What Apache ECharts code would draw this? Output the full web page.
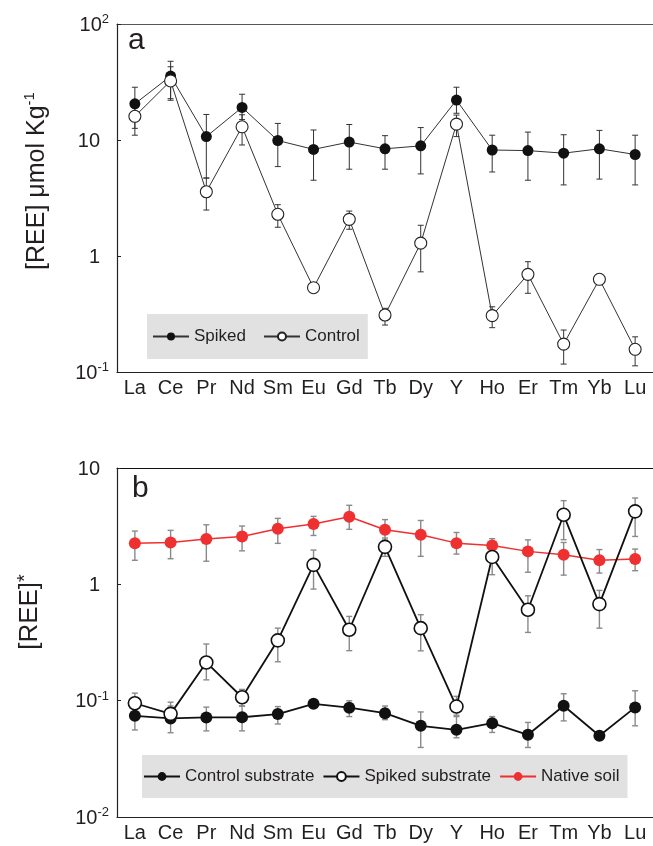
<!DOCTYPE html>
<html>
<head>
<meta charset="utf-8">
<script src="https://cdn.jsdelivr.net/npm/echarts@6/dist/echarts.min.js"></script>
<style>html,body{margin:0;padding:0;background:#fff}#c{width:653px;height:846px}</style>
</head>
<body>
<div id="c"></div>
<script>
const categories = ['La','Ce','Pr','Nd','Sm','Eu','Gd','Tb','Dy','Y','Ho','Er','Tm','Yb','Lu'];

// Panel a
const aSpiked   = [20.5, 35.6, 10.7, 19.1, 9.9, 8.3, 9.6, 8.4, 8.9, 22.1, 8.2, 8.1, 7.7, 8.4, 7.5];
const aSpikedHi = [28.5, 47.7, 16.6, 24.8, 13.9, 12.2, 13.6, 10.9, 12.8, 28.5, 11.0, 11.7, 11.1, 12.1, 11.0];
const aSpikedLo = [12.6, 22.0, 4.7, 15.0, 5.9, 4.5, 5.6, 5.6, 5.1, 17.0, 5.3, 4.5, 4.1, 4.6, 4.1];
const aControl   = [16.0, 32.3, 3.58, 13.0, 2.29, 0.533, 2.07, 0.31, 1.29, 13.7, 0.306, 0.695, 0.174, 0.63, 0.157];
const aControlHi = [21.0, 42.8, 4.7, 16.5, 2.77, 0.55, 2.44, 0.354, 1.84, 16.4, 0.365, 0.893, 0.23, 0.65, 0.201];
const aControlLo = [11.0, 22.7, 2.49, 9.06, 1.77, 0.51, 1.70, 0.254, 0.73, 10.7, 0.241, 0.477, 0.117, 0.61, 0.113];

// Panel b
const bNative   = [2.26, 2.29, 2.45, 2.58, 3.01, 3.30, 3.81, 2.95, 2.67, 2.26, 2.16, 1.92, 1.80, 1.61, 1.65];
const bNativeHi = [2.87, 2.91, 3.25, 3.17, 3.69, 3.84, 4.78, 3.60, 3.54, 2.79, 2.47, 2.41, 2.29, 1.99, 2.01];
const bNativeLo = [1.61, 1.66, 1.58, 1.94, 2.25, 2.63, 2.97, 2.40, 1.74, 1.82, 1.90, 1.27, 1.20, 1.25, 1.31];
const bSpiked   = [0.095, 0.077, 0.213, 0.107, 0.33, 1.47, 0.407, 2.10, 0.42, 0.089, 1.72, 0.605, 3.96, 0.676, 4.24];
const bSpikedHi = [0.116, 0.097, 0.307, 0.125, 0.42, 1.97, 0.53, 2.50, 0.548, 0.109, 2.00, 0.797, 5.24, 0.887, 5.52];
const bSpikedLo = [0.080, 0.065, 0.151, 0.090, 0.216, 0.91, 0.269, 1.74, 0.268, 0.075, 1.21, 0.386, 2.42, 0.42, 2.58];
const bControl   = [0.0741, 0.0703, 0.0717, 0.072, 0.0767, 0.094, 0.087, 0.078, 0.0608, 0.0562, 0.064, 0.0509, 0.0904, 0.0499, 0.0875];
const bControlHi = [0.090, 0.090, 0.088, 0.090, 0.089, 0.098, 0.0998, 0.090, 0.080, 0.073, 0.073, 0.065, 0.1146, 0.052, 0.1216];
const bControlLo = [0.056, 0.053, 0.055, 0.055, 0.063, 0.090, 0.073, 0.0686, 0.0396, 0.048, 0.0533, 0.0396, 0.067, 0.048, 0.0608];

const FONT = 'Liberation Sans, Arial, sans-serif';
const TXT = '#231f20';

function errData(lo, hi) { return lo.map((l, i) => [i, l, hi[i]]); }
function errRender(color, cap, lw) {
  return function (params, api) {
    const x = api.value(0);
    const p1 = api.coord([x, api.value(2)]);
    const p2 = api.coord([x, api.value(1)]);
    const cx = p1[0];
    const st = { stroke: color, lineWidth: lw };
    return { type: 'group', children: [
      { type: 'line', shape: { x1: cx, y1: p1[1], x2: cx, y2: p2[1] }, style: st },
      { type: 'line', shape: { x1: cx - cap, y1: p1[1], x2: cx + cap, y2: p1[1] }, style: st },
      { type: 'line', shape: { x1: cx - cap, y1: p2[1], x2: cx + cap, y2: p2[1] }, style: st }
    ]};
  };
}
function yFmt(v) {
  const e = Math.round(Math.log10(v));
  if (e === 0) return '{bp|1}';
  if (e === 1) return '{bp|10}';
  return '{b|10}{s|' + e + '}';
}
const yRich = {
  b: { fontSize: 20, fontFamily: FONT, color: TXT, lineHeight: 22, verticalAlign: 'bottom' },
  bp: { fontSize: 20, fontFamily: FONT, color: TXT, lineHeight: 22, padding: [0, 9, 0, 0], verticalAlign: 'bottom' },
  s: { fontSize: 13, fontFamily: FONT, color: TXT, lineHeight: 13, verticalAlign: 'top', padding: [0, 0, 0, 0] }
};

function xAxisBottom(g) {
  return {
    type: 'category', data: categories, gridIndex: g, boundaryGap: true,
    axisLine: { lineStyle: { color: '#222', width: 1.2 } },
    axisTick: { inside: true, length: 4, lineStyle: { color: '#222' } },
    axisLabel: { interval: 0, fontSize: 20, fontFamily: FONT, color: TXT, margin: 6 }
  };
}
function xAxisTop(g, color) {
  return {
    type: 'category', data: categories, gridIndex: g, position: 'top',
    axisLine: { lineStyle: { color: color, width: 1.2 } },
    axisTick: { show: false }, axisLabel: { show: false }
  };
}
function yAxis(g, min, max) {
  return {
    type: 'log', logBase: 10, min: min, max: max, gridIndex: g,
    axisLine: { show: true, lineStyle: { color: '#222', width: 1.2 } },
    axisTick: { show: true, inside: true, length: 4, lineStyle: { color: '#222' } },
    minorTick: { show: false },
    splitLine: { show: false },
    axisLabel: { formatter: yFmt, rich: yRich, margin: 8 }
  };
}

const option = {
  animation: false,
  backgroundColor: '#fff',
  grid: [
    { left: 117, top: 24, width: 538, height: 348 },
    { left: 117, top: 468, width: 538, height: 349 }
  ],
  xAxis: [xAxisBottom(0), xAxisBottom(1), xAxisTop(0, '#555'), xAxisTop(1, '#111')],
  yAxis: [yAxis(0, 0.1, 100), yAxis(1, 0.01, 10)],
  legend: [
    {
      data: ['Spiked', 'Control'], left: 147, top: 314, orient: 'horizontal',
      backgroundColor: '#e1e1e1', padding: [14, 8, 14, 5], itemGap: 17,
      itemWidth: 36, itemHeight: 10,
      textStyle: { fontSize: 17, fontFamily: FONT, color: TXT }
    },
    {
      data: ['Control substrate', 'Spiked substrate', 'Native soil'], left: 142, top: 755,
      backgroundColor: '#e1e1e1', padding: [13, 8, 13, 1], itemGap: 8,
      itemWidth: 36, itemHeight: 11,
      textStyle: { fontSize: 17, fontFamily: FONT, color: TXT }
    }
  ],
  graphic: [
    { type: 'text', x: 36, y: 181, rotation: Math.PI / 2,
      style: { text: '{b|[REE] μmol Kg}{s|-1}', align: 'center', verticalAlign: 'middle', textAlign: 'center', textVerticalAlign: 'middle',
        rich: { b: { fontSize: 25, fontFamily: FONT, fill: TXT, color: TXT, lineHeight: 28, verticalAlign: 'bottom' },
                s: { fontSize: 15, fontFamily: FONT, fill: TXT, color: TXT, lineHeight: 15, verticalAlign: 'top' } } } },
    { type: 'text', x: 29, y: 612, rotation: Math.PI / 2,
      style: { text: '{b|[REE]}{s|*}', align: 'center', verticalAlign: 'middle', textAlign: 'center', textVerticalAlign: 'middle',
        rich: { b: { fontSize: 26, fontFamily: FONT, fill: TXT, color: TXT, lineHeight: 28, verticalAlign: 'bottom' },
                s: { fontSize: 20, fontFamily: FONT, fill: TXT, color: TXT, lineHeight: 20, verticalAlign: 'top' } } } },
    { type: 'text', x: 128, y: 41, style: { text: 'a', font: '30px Liberation Sans', fill: TXT, align: 'left', verticalAlign: 'middle', textAlign: 'left', textVerticalAlign: 'middle' } },
    { type: 'text', x: 132, y: 489, style: { text: 'b', font: '30px Liberation Sans', fill: TXT, align: 'left', verticalAlign: 'middle', textAlign: 'left', textVerticalAlign: 'middle' } }
  ],
  series: [
    // Panel a error bars
    { type: 'custom', name: 'errA1', xAxisIndex: 0, yAxisIndex: 0, z: 1, silent: true,
      renderItem: errRender('#333', 3, 1), data: errData(aSpikedLo, aSpikedHi), encode: { x: 0, y: [1, 2] } },
    { type: 'custom', name: 'errA2', xAxisIndex: 0, yAxisIndex: 0, z: 1, silent: true,
      renderItem: errRender('#333', 3, 1), data: errData(aControlLo, aControlHi), encode: { x: 0, y: [1, 2] } },
    { type: 'line', name: 'Spiked', xAxisIndex: 0, yAxisIndex: 0, z: 3, data: aSpiked,
      symbol: 'circle', symbolSize: 11, itemStyle: { color: '#111' },
      lineStyle: { color: '#333', width: 1 } },
    { type: 'line', name: 'Control', xAxisIndex: 0, yAxisIndex: 0, z: 4, data: aControl,
      symbol: 'circle', symbolSize: 12, itemStyle: { color: '#fff', borderColor: '#222', borderWidth: 1.1 },
      lineStyle: { color: '#333', width: 1 } },
    // Panel b error bars
    { type: 'custom', name: 'errB1', xAxisIndex: 1, yAxisIndex: 1, z: 1, silent: true,
      renderItem: errRender('#8a8a8a', 3, 1.4), data: errData(bNativeLo, bNativeHi), encode: { x: 0, y: [1, 2] } },
    { type: 'custom', name: 'errB2', xAxisIndex: 1, yAxisIndex: 1, z: 1, silent: true,
      renderItem: errRender('#8a8a8a', 3, 1.4), data: errData(bSpikedLo, bSpikedHi), encode: { x: 0, y: [1, 2] } },
    { type: 'custom', name: 'errB3', xAxisIndex: 1, yAxisIndex: 1, z: 1, silent: true,
      renderItem: errRender('#8a8a8a', 3, 1.4), data: errData(bControlLo, bControlHi), encode: { x: 0, y: [1, 2] } },
    { type: 'line', name: 'Native soil', xAxisIndex: 1, yAxisIndex: 1, z: 2, data: bNative,
      symbol: 'circle', symbolSize: 12, itemStyle: { color: '#ee3030' },
      lineStyle: { color: '#ee3030', width: 1.5 } },
    { type: 'line', name: 'Control substrate', xAxisIndex: 1, yAxisIndex: 1, z: 3, data: bControl,
      symbol: 'circle', symbolSize: 12, itemStyle: { color: '#111' },
      lineStyle: { color: '#111', width: 1.8 } },
    { type: 'line', name: 'Spiked substrate', xAxisIndex: 1, yAxisIndex: 1, z: 4, data: bSpiked,
      symbol: 'circle', symbolSize: 13, itemStyle: { color: '#fff', borderColor: '#111', borderWidth: 1.6 },
      lineStyle: { color: '#111', width: 1.8 } }
  ]
};
const chart = echarts.init(document.getElementById('c'), null, { renderer: 'canvas' });
chart.setOption(option);
</script>
</body>
</html>
